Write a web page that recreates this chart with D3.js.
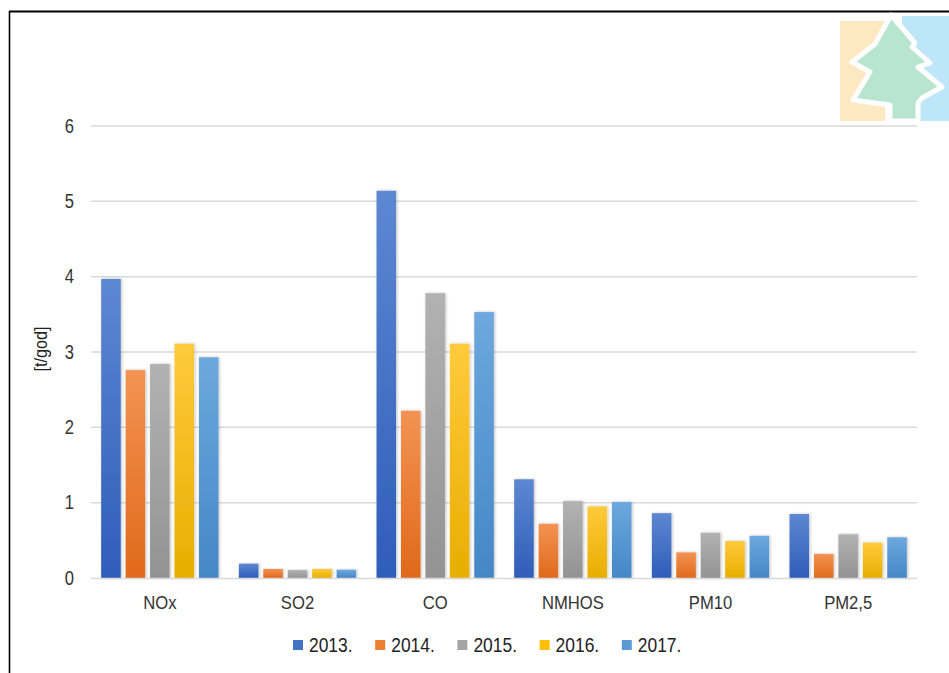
<!DOCTYPE html>
<html><head><meta charset="utf-8">
<script src="https://cdn.jsdelivr.net/npm/d3@7"></script>
<style>body{margin:0;background:#fff;}svg{display:block;}</style>
</head><body>
<svg id="chart" width="949" height="673"></svg>
<script>
const categories = ["NOx","SO2","CO","NMHOS","PM10","PM2,5"];
const years = ["2013.","2014.","2015.","2016.","2017."];
const v2013 = [3.97,0.19,5.14,1.31,0.86,0.85];
const v2014 = [2.76,0.12,2.22,0.72,0.34,0.32];
const v2015 = [2.84,0.105,3.78,1.02,0.60,0.58];
const v2016 = [3.11,0.12,3.11,0.95,0.49,0.47];
const v2017 = [2.93,0.11,3.53,1.01,0.56,0.54];
const yTicks = [0,1,2,3,4,5,6];
const yLabel = "[t/god]";

const series = [v2013,v2014,v2015,v2016,v2017];
const colors = ["#4472C4","#ED7D31","#A5A5A5","#FFC000","#5B9BD5"];
const topC = ["#5E87D2","#F39353","#B2B2B2","#FFCA3C","#6DA8DE"];
const botC = ["#2E5DB9","#E0691A","#939393","#E8AE00","#4487C6"];
const font = "'Liberation Sans',Arial,sans-serif";
const SX = 0.85;

const svg = d3.select("#chart");
const defs = svg.append("defs");
colors.forEach((c,i)=>{
  const g = defs.append("linearGradient").attr("id","g"+i).attr("x1",0).attr("y1",0).attr("x2",0).attr("y2",1);
  g.append("stop").attr("offset","0%").attr("stop-color",topC[i]);
  g.append("stop").attr("offset","100%").attr("stop-color",botC[i]);
});
const flt = defs.append("filter").attr("id","sh").attr("x","-30%").attr("y","-10%").attr("width","160%").attr("height","120%");
flt.append("feDropShadow").attr("dx",1).attr("dy",0).attr("stdDeviation",1.5).attr("flood-color","#000").attr("flood-opacity",0.25);

// frame
svg.append("line").attr("x1",9).attr("x2",949).attr("y1",11.5).attr("y2",11.5).attr("stroke","#000").attr("stroke-width",2);
svg.append("line").attr("x1",9.5).attr("x2",9.5).attr("y1",11).attr("y2",673).attr("stroke","#000").attr("stroke-width",1.6);

// logo
const logo = svg.append("g");
logo.append("rect").attr("x",840).attr("y",21).attr("width",45).attr("height",100).attr("fill","#FDE9C1");
logo.append("rect").attr("x",902).attr("y",16).attr("width",47).attr("height",105).attr("fill","#BDE6F9");
const tree = [[891,15],[915,43],[912,47],[930,63],[918,67],[942,87],[922,98],[918,103],[918,121],[890,121],[890,105],[853,100],[870,72],[852,62],[875,44]];
logo.append("path").attr("d","M"+tree.map(p=>p.join(",")).join("L")+"Z")
  .attr("fill","#B8E5CF").attr("stroke","#fff").attr("stroke-width",5).attr("stroke-linejoin","round");

const y = d3.scaleLinear().domain([0,6]).range([578,126]);
const x0 = d3.scaleBand().domain(categories).range([91,917]).paddingInner(0.148).paddingOuter(0.074);
const x1 = d3.scaleBand().domain(years).range([0,x0.bandwidth()]).paddingInner(0.2).paddingOuter(0);

// grid
svg.append("g").selectAll("line").data(yTicks.filter(t=>t>0)).join("line")
  .attr("x1",91).attr("x2",917).attr("y1",d=>y(d)).attr("y2",d=>y(d))
  .attr("stroke","#D9D9D9").attr("stroke-width",1.5);

// y axis
const ya = svg.append("g").attr("transform","translate(74,0)")
  .call(d3.axisLeft(y).tickValues(yTicks).tickFormat(d3.format("d")).tickSize(0).tickPadding(0));
ya.select(".domain").remove();
ya.selectAll("text").attr("x",0).attr("font-family",font).attr("font-size",19.5).attr("fill","#333")
  .attr("text-anchor","end").attr("transform",`scale(${SX},1)`);

svg.append("text").attr("transform",`translate(47,349) rotate(-90) scale(${SX},1)`).attr("text-anchor","middle")
  .attr("font-family",font).attr("font-size",19).attr("fill","#222").text(yLabel);

// bars
const groups = svg.append("g").selectAll("g").data(categories).join("g")
  .attr("transform",d=>`translate(${x0(d)},0)`);
groups.selectAll("rect").data((c,ci)=>years.map((yr,si)=>({yr,si,v:series[si][ci]}))).join("rect")
  .attr("x",d=>x1(d.yr)).attr("width",x1.bandwidth())
  .attr("y",d=>y(d.v)).attr("height",d=>y(0)-y(d.v))
  .attr("fill",d=>`url(#g${d.si})`).attr("filter","url(#sh)");

// baseline
svg.append("line").attr("x1",91).attr("x2",917).attr("y1",578.5).attr("y2",578.5).attr("stroke","#D9D9D9").attr("stroke-width",1.5);

// x axis labels
const xa = svg.append("g").attr("transform","translate(0,596)")
  .call(d3.axisBottom(x0).tickSize(0).tickPadding(0));
xa.select(".domain").remove();
xa.selectAll("text").attr("y",0).attr("font-family",font).attr("font-size",18.5).attr("fill","#333")
  .attr("dy","0.71em").attr("transform",`scale(0.9,1)`);

// legend
const lg = svg.append("g").selectAll("g").data(years).join("g")
  .attr("transform",(d,i)=>`translate(${293+i*82.2},645)`);
lg.append("rect").attr("x",0).attr("y",-5).attr("width",10).attr("height",10).attr("fill",(d,i)=>colors[i]);
lg.append("text").attr("transform",`translate(16,0) scale(${SX},1)`).attr("dy","0.36em")
  .attr("font-family",font).attr("font-size",20.5).attr("fill","#222").text(d=>d);
</script>
</body></html>
